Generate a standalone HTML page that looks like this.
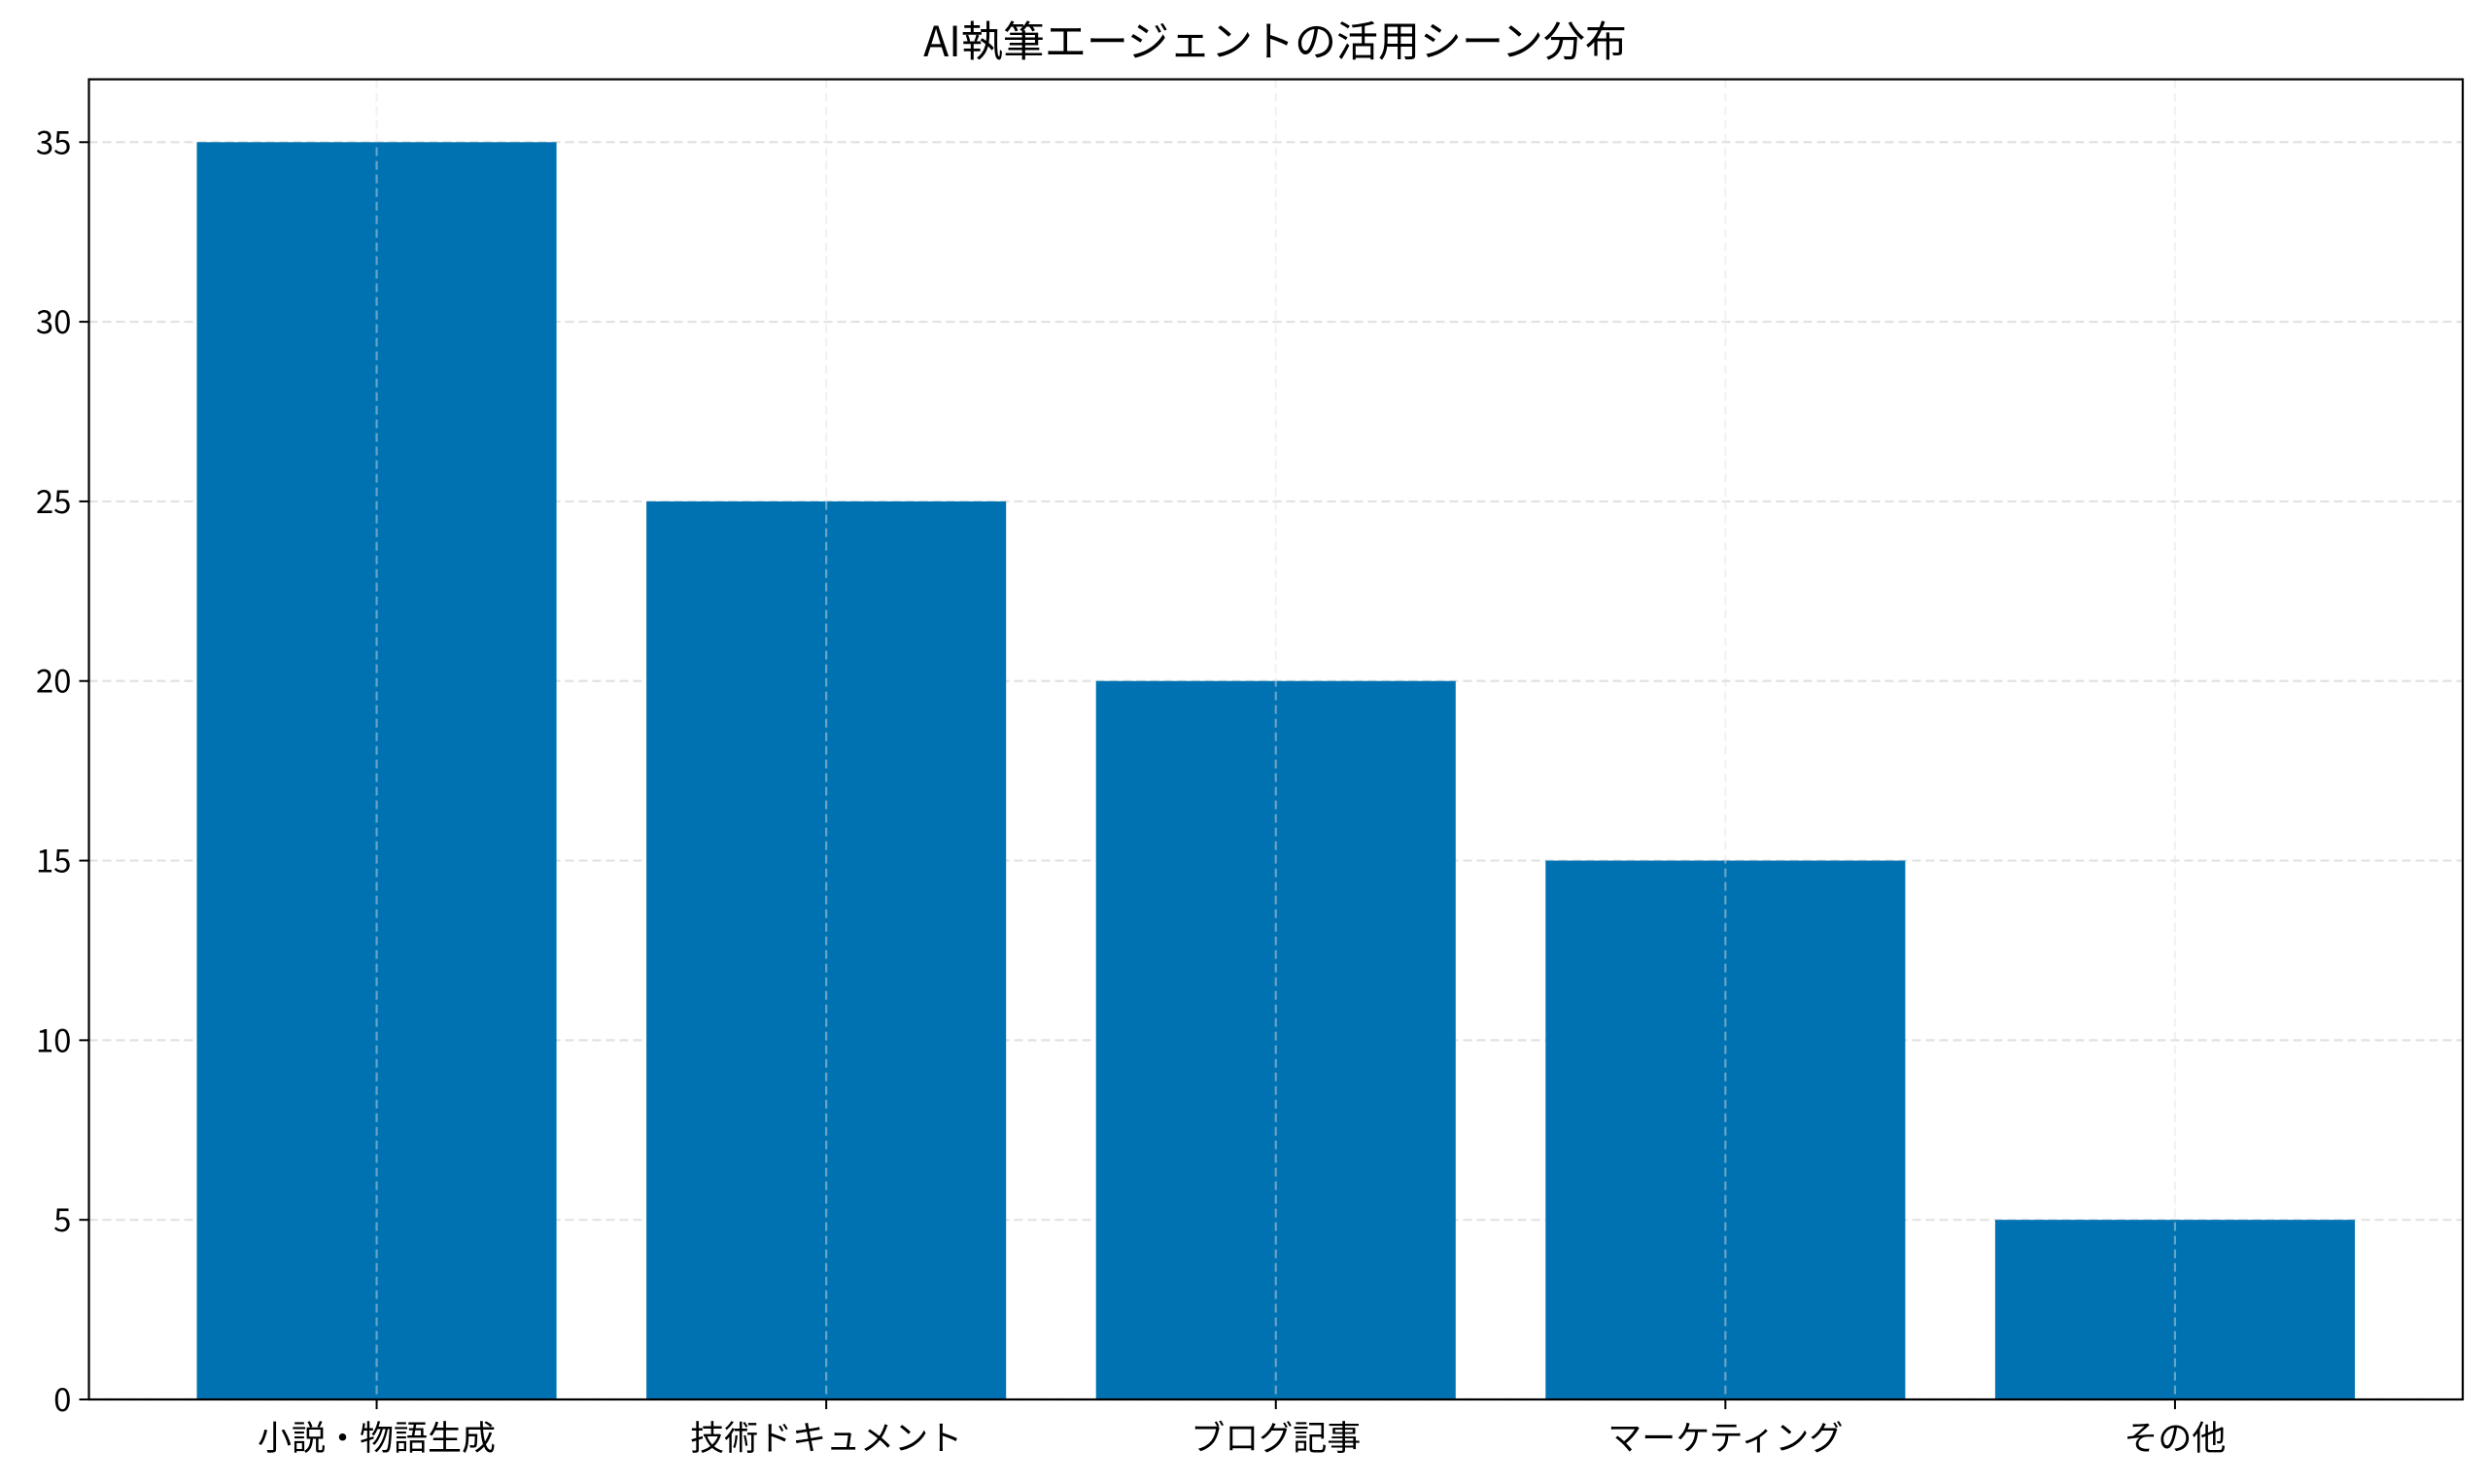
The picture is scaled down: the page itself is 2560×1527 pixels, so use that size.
<!DOCTYPE html>
<html><head><meta charset="utf-8">
<style>
html,body{margin:0;padding:0;background:#fff;}
svg{display:block;}
text{font-family:"Noto Sans CJK JP","Liberation Sans",sans-serif;fill:#000;}
</style></head>
<body>
<svg id="chart" width="2560" height="1527" viewBox="0 0 2560 1527" xmlns="http://www.w3.org/2000/svg">
<rect width="2560" height="1527" fill="#fff"/>
<text x="1312" y="58" font-size="43" text-anchor="middle">AI執筆エージェントの活用シーン分布</text>
<g id="grid"></g>
<g id="bars"></g>
<g id="vgrid"></g>
<g id="axes"></g>
</svg>
<script>
const categories = ["小説・物語生成","技術ドキュメント","ブログ記事","マーケティング","その他"];
const values = [35,25,20,15,5];
const yTicks = [0,5,10,15,20,25,30,35];

const L=91.5,R=2534,T=81.6,B=1440;
const xMin=-0.64,xMax=4.64,yMax=36.75;
const NS="http://www.w3.org/2000/svg";
function xs(v){return L+(v-xMin)/(xMax-xMin)*(R-L);}
function ys(v){return B-v/yMax*(B-T);}
function mk(tag,attrs,parent){const e=document.createElementNS(NS,tag);for(const k in attrs)e.setAttribute(k,attrs[k]);parent.appendChild(e);return e;}
const grid=document.getElementById('grid'),bars=document.getElementById('bars'),vgrid=document.getElementById('vgrid'),axes=document.getElementById('axes');

yTicks.forEach(t=>{
  const y=ys(t);
  const g=mk('line',{x1:L,x2:R,y1:y,y2:y,stroke:'#e2e2e2','stroke-width':2.2,'stroke-dasharray':'9,5'},grid);
  
  
  const tk=mk('line',{x1:L-10,x2:L,y1:y,y2:y,stroke:'#000','stroke-width':2},axes);
  
  
  const tx=mk('text',{x:L-18,y:y+12,'font-size':33,'text-anchor':'end'},axes);
  tx.textContent=t;
  
  
});

categories.forEach((c,i)=>{
  const x0=xs(i-0.4),x1=xs(i+0.4);
  const r=mk('rect',{x:x0,y:ys(values[i]),width:x1-x0,height:B-ys(values[i]),fill:'#0072B2'},bars);
  
  
  const cx=xs(i);
  const g=mk('line',{x1:cx,x2:cx,y1:T,y2:B,stroke:'#e2e2e2','stroke-opacity':0.45,'stroke-width':2.2,'stroke-dasharray':'9,5'},vgrid);
  
  
  const tk=mk('line',{x1:cx,x2:cx,y1:B,y2:B+10,stroke:'#000','stroke-width':2},axes);
  
  
  const tx=mk('text',{x:cx,y:B+52,'font-size':35,'text-anchor':'middle'},axes);
  tx.textContent=c;
  
  
});

const frame=mk('rect',{x:L,y:T,width:R-L,height:B-T,fill:'none',stroke:'#000','stroke-width':2.2},axes);


</script>
</body></html>
